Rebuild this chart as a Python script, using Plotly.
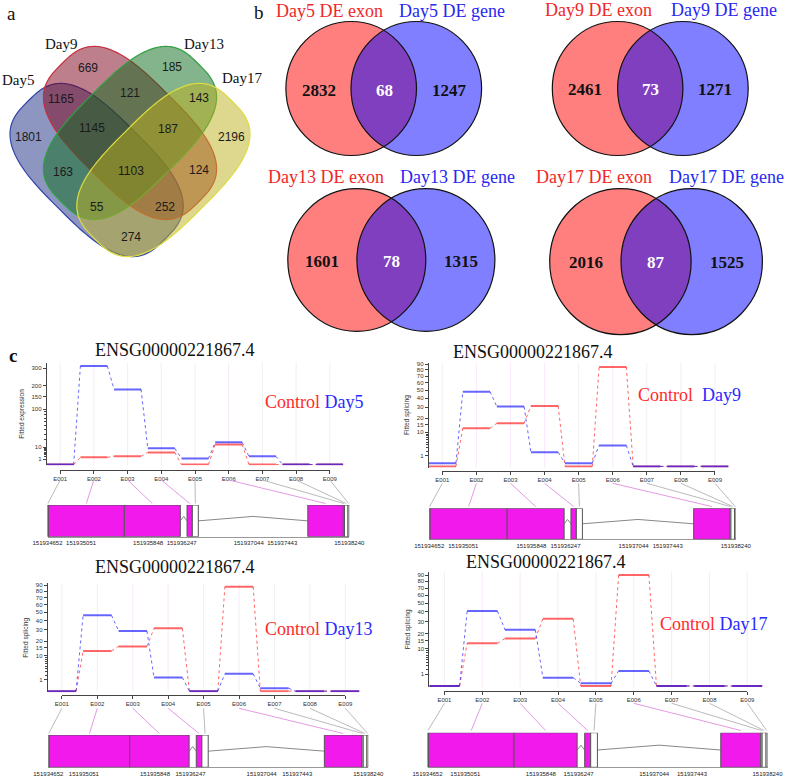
import numpy as np
import plotly.graph_objects as go

W, H = 787, 776
SERIF = "Liberation Serif, Times New Roman, serif"
SANS = "Liberation Sans, Arial, sans-serif"
AX = "#444444"
RED_LINE = "rgba(255,0,0,0.6)"
BLUE_LINE = "rgba(0,0,255,0.6)"

# ── a: four-way Venn of DE exons ─────────────────────────────────────────
venn4_sets = ["Day5", "Day9", "Day13", "Day17"]
venn4_regions = ["A", "B", "C", "D", "AB", "AC", "AD", "BC", "BD", "CD",
                 "ABC", "ABD", "ACD", "BCD", "ABCD"]
venn4_counts = [1801, 669, 185, 2196, 1165, 163, 274, 121, 124, 143,
                1145, 252, 55, 187, 1103]

# ── b: DE exon vs DE gene overlaps ───────────────────────────────────────
venn2_days = ["Day5", "Day9", "Day13", "Day17"]
de_exon_only = [2832, 2461, 1601, 2016]
de_both = [68, 73, 78, 87]
de_gene_only = [1247, 1271, 1315, 1525]

# ── c: DEXSeq fits for one gene ──────────────────────────────────────────
gene_id = "ENSG00000221867.4"
exon_ids = ["E001", "E002", "E003", "E004", "E005", "E006", "E007", "E008", "E009"]
exon_sig = [False, True, True, True, False, True, False, False, False]
exon_start = [151934652, 151934662, 151935565, 151936311, 151936374,
              151937747, 151938169, 151938183, 151938225]
exon_end = [151934662, 151935565, 151936231, 151936374, 151936445,
            151938169, 151938183, 151938225, 151938240]
genomic_ticks = [151934652, 151935051, 151935848, 151936247,
                 151937044, 151937443, 151938240]

control_day5 = [0, 1.7, 2.2, 4.8, 0, 13.2, 0, 0, 0]
fit_day5 = [0, 314, 183, 8.5, 1.2, 16, 2.2, 0, 0]
control_day9 = [0, 12.5, 16, 31.4, 0, 85, 0, 0, 0]
fit_day9 = [0.09, 48, 30.7, 1.7, 0.09, 3.8, 0, 0, 0]
control_day13 = [0, 12.9, 16, 31.5, 0, 87, 0, 0, 0]
fit_day13 = [0, 46, 29, 1.5, 0, 2.4, 0.07, 0, 0]
control_day17 = [0, 13.3, 16.4, 33, 0, 90, 0, 0, 0]
fit_day17 = [0, 41, 23, 0.5, 0.05, 1.65, 0, 0, 0]

expr_ticks = [1, 10, 100, 150, 200, 300]
splice_ticks = [1, 10, 15, 20, 30, 40, 50, 60, 70, 80, 90]

# ── layout positions (pixels) ────────────────────────────────────────────
VENN4_POS = {"A": (28.7, 136.7), "B": (87.7, 68.3), "C": (171.7, 66.7),
             "D": (231, 136.7), "AB": (61, 99.3), "AC": (62.7, 171.7),
             "AD": (131, 237.3), "BC": (130, 92.7), "BD": (198.7, 170),
             "CD": (198.7, 97.7), "ABC": (92, 128.3), "ABD": (165, 206.7),
             "ACD": (96.7, 206.7), "BCD": (168.3, 129.3), "ABCD": (130.7, 170.7)}
VENN4_LABEL_POS = [(18.3, 80), (61, 44), (204, 44), (241.7, 78.3)]
# cx, cy, half-extent, half-width, angle, fill, line
BLOBS = [
    (96.6, 170, 86.6, 54, 45, "rgba(28,45,130,0.5)", "#3345A8"),
    (130, 133, 86.6, 54, 45, "rgba(125,0,25,0.5)", "#C83040"),
    (130, 133, 86.6, 54, -45, "rgba(10,105,25,0.5)", "#30A040"),
    (163.4, 170, 86.6, 54, -45, "rgba(190,175,30,0.5)", "#DCDC40"),
]
SQUIRCLE_N = 3.0

VENN2_POS = [
    dict(red=(351.2, 88.5), blue=(416.3, 88.5), r=(65.3, 67), tred=329.5, tblue=451.9,
         ty=11, nums=(318.8, 384.3, 449), ny=90),
    dict(red=(617.6, 88.5), blue=(682.9, 88.5), r=(65.3, 67), tred=598.9, tblue=724.2,
         ty=10, nums=(584.6, 650.3, 715.4), ny=89),
    dict(red=(356.8, 260), blue=(425.9, 260), r=(69, 71.3), tred=325.7, tblue=457.8,
         ty=176.5, nums=(321.6, 391.8, 460.7), ny=261),
    dict(red=(620.4, 261.6), blue=(691.7, 261.6), r=(70.7, 73), tred=594.2, tblue=726.5,
         ty=176.5, nums=(585.6, 656.2, 726.8), ny=262.5),
]

C_PANELS = [
    dict(control=control_day5, fit=fit_day5, day="Day5", ylabel="Fitted expression",
         yticks=expr_ticks, data_x=(46.7, 343.3), data_y=(362.7, 465.3),
         yrange=(-0.13, 18.33), axis_y=470, title=(175, 350), legend=(263.3, 401.7),
         gap=" ", gene_x=(47.5, 349.3), gene_y=(505, 536.7), conn=(480, 503.5)),
    dict(control=control_day9, fit=fit_day9, day="Day9", ylabel="Fitted splicing",
         yticks=splice_ticks, data_x=(428.7, 728.6), data_y=(362.7, 467.5),
         yrange=(-0.1, 9.61), axis_y=470.7, title=(533, 351.7), legend=(635.7, 395),
         gap="\u00a0\u00a0", gene_x=(429.2, 735.8), gene_y=(508.3, 539.3), conn=(483.3, 506.5)),
    dict(control=control_day13, fit=fit_day13, day="Day13", ylabel="Fitted splicing",
         yticks=splice_ticks, data_x=(47.7, 359.5), data_y=(583.3, 692.3),
         yrange=(-0.1, 9.64), axis_y=695, title=(175.3, 566.7), legend=(263.3, 629.3),
         gap=" ", gene_x=(48.3, 368.3), gene_y=(735, 767.3), conn=(708.3, 733.5)),
    dict(control=control_day17, fit=fit_day17, day="Day17", ylabel="Fitted splicing",
         yticks=splice_ticks, data_x=(429.3, 762.5), data_y=(571.7, 687),
         yrange=(-0.09, 9.77), axis_y=691, title=(545.8, 561.7), legend=(657.7, 624.3),
         gap=" ", gene_x=(427.5, 767.5), gene_y=(732.7, 767.3), conn=(703.3, 730.5)),
]


def axname(kind, n):
    key = f"{kind}axis" if n == 1 else f"{kind}axis{n}"
    ref = kind if n == 1 else f"{kind}{n}"
    return key, ref


def dom_x(p0, p1):
    return [p0 / W, p1 / W]


def dom_y(top, bottom):
    return [1 - bottom / H, 1 - top / H]


fig = go.Figure()
layout = dict(width=W, height=H, margin=dict(l=0, r=0, t=0, b=0, pad=0), autosize=False,
              paper_bgcolor="white", plot_bgcolor="rgba(0,0,0,0)", showlegend=False)
shapes, annotations = [], []

# pixel canvas covering the whole figure
CX, CY = "x13", "y9"
layout["xaxis13"] = dict(domain=[0, 1], range=[0, W], visible=False, fixedrange=True,
                         anchor=CY, automargin=False)
layout["yaxis9"] = dict(domain=[0, 1], range=[H, 0], visible=False, fixedrange=True,
                        anchor=CX, automargin=False)
fig.add_trace(go.Scatter(x=[None], y=[None], xaxis=CX, yaxis=CY, hoverinfo="skip"))


def text(x, y, s, size, color="#111111", family=SERIF, xanchor="center", yanchor="middle"):
    annotations.append(dict(x=x, y=y, xref=CX, yref=CY, text=s, showarrow=False,
                            xanchor=xanchor, yanchor=yanchor,
                            font=dict(size=size, color=color, family=family)))


# ── panel a: rounded (superellipse) sets ─────────────────────────────────
t = np.linspace(0, 2 * np.pi, 181)
m = SQUIRCLE_N / (SQUIRCLE_N - 1)
for cx, cy, ext, b, ang, fill, line in BLOBS:
    # semi-major axis chosen so the diagonal half-extent equals `ext`
    a = ((ext * np.sqrt(2)) ** m - b ** m) ** (1 / m)
    c, s = np.cos(t), np.sin(t)
    u = a * np.sign(c) * np.abs(c) ** (2 / SQUIRCLE_N)
    v = b * np.sign(s) * np.abs(s) ** (2 / SQUIRCLE_N)
    th = np.deg2rad(ang)
    xs = cx + u * np.cos(th) - v * np.sin(th)
    ys = cy + u * np.sin(th) + v * np.cos(th)
    path = "M " + " L ".join(f"{x:.2f},{y:.2f}" for x, y in zip(xs, ys)) + " Z"
    shapes.append(dict(type="path", path=path, xref=CX, yref=CY,
                       fillcolor=fill, line=dict(color=line, width=1.2)))

for name, (x, y) in zip(venn4_sets, VENN4_LABEL_POS):
    text(x, y, name, 15)
for reg, cnt in zip(venn4_regions, venn4_counts):
    x, y = VENN4_POS[reg]
    text(x, y, str(cnt), 12, "#1a1a1a", SANS)

text(11.7, 13.3, "a", 19)
text(258.6, 12, "b", 19)
text(13.3, 355, "<b>c</b>", 19)

# ── panel b ──────────────────────────────────────────────────────────────
for day, n_exon, n_both, n_gene, P in zip(venn2_days, de_exon_only, de_both,
                                          de_gene_only, VENN2_POS):
    rx, ry = P["r"]
    for (cx, cy), fill in ((P["red"], "rgba(255,0,0,0.5)"), (P["blue"], "rgba(0,0,255,0.5)")):
        shapes.append(dict(type="circle", xref=CX, yref=CY, x0=cx - rx, x1=cx + rx,
                           y0=cy - ry, y1=cy + ry, fillcolor=fill, line=dict(width=0)))
    for cx, cy in (P["red"], P["blue"]):
        shapes.append(dict(type="circle", xref=CX, yref=CY, x0=cx - rx, x1=cx + rx,
                           y0=cy - ry, y1=cy + ry, line=dict(color="#111111", width=1.2)))
    text(P["tred"], P["ty"], f"{day} DE exon", 18, "#F02828")
    text(P["tblue"], P["ty"], f"{day} DE gene", 18, "#2828F0")
    for x, n, col in zip(P["nums"], (n_exon, n_both, n_gene), ("#111111", "white", "#111111")):
        text(x, P["ny"], f"<b>{n}</b>", 17, col)

# ── panel c ──────────────────────────────────────────────────────────────
G0, G1 = genomic_ticks[0], genomic_ticks[-1]
for k, P in enumerate(C_PANELS):
    kxd, rxd = axname("x", 3 * k + 1)
    kxt, rxt = axname("x", 3 * k + 2)
    kxg, rxg = axname("x", 3 * k + 3)
    kyd, ryd = axname("y", 2 * k + 1)
    kyg, ryg = axname("y", 2 * k + 2)

    d0, d1 = P["data_x"]
    step = (d1 - d0) / 8.8
    t0, t1 = d0 + 0.4 * step, d1 - 0.4 * step
    ticks = P["yticks"]
    minor_vals = list(range(2, 10)) + ([20, 30, 40, 50, 60, 70, 80, 90] if ticks is expr_ticks else [])

    layout[kxd] = dict(domain=dom_x(d0, d1), range=[0.6, 9.4], anchor=ryd,
                       visible=False, fixedrange=True, automargin=False)
    layout[kyd] = dict(domain=dom_y(*P["data_y"]), range=list(P["yrange"]), anchor=rxd,
                       showline=True, linecolor=AX, linewidth=1, ticks="outside",
                       ticklen=3, tickwidth=1, tickcolor=AX, automargin=False,
                       tickvals=[float(np.sqrt(v)) for v in ticks],
                       ticktext=[str(v) for v in ticks],
                       tickfont=dict(size=6, family=SANS, color="#333333"),
                       minor=dict(tickvals=[float(np.sqrt(v)) for v in minor_vals],
                                  ticks="outside", ticklen=2, tickcolor=AX, showgrid=False),
                       showgrid=False, zeroline=False, fixedrange=True,
                       title=dict(text=P["ylabel"], standoff=6,
                                  font=dict(size=6.5, family=SANS, color="#333333")))
    layout[kxt] = dict(domain=dom_x(t0, t1), range=[1, 9], anchor="free",
                       position=1 - P["axis_y"] / H, tickvals=list(range(1, 10)),
                       ticktext=exon_ids, showline=True, linecolor=AX, linewidth=1,
                       ticks="outside", ticklen=3, tickcolor=AX, tickangle=0,
                       tickfont=dict(size=6, family=SANS, color="#333333"), automargin=False,
                       showgrid=False, zeroline=False, fixedrange=True)
    fig.add_trace(go.Scatter(x=[None], y=[None], xaxis=rxt, yaxis=ryd, hoverinfo="skip"))

    # faint exon guides
    for i, sig in enumerate(exon_sig, start=1):
        shapes.append(dict(type="line", xref=rxd, yref=f"{ryd} domain", x0=i, x1=i, y0=0, y1=1,
                           layer="below",
                           line=dict(color="rgba(235,170,235,0.25)" if sig else "rgba(200,200,200,0.25)",
                                     width=1)))

    # fitted values: flat exon segments joined by dotted ramps
    for vals, col in ((P["control"], RED_LINE), (P["fit"], BLUE_LINE)):
        s = np.sqrt(np.asarray(vals, dtype=float))
        xs, ys, cx_, cy_ = [], [], [], []
        for i, v in enumerate(s, start=1):
            xs += [i - 0.4, i + 0.4, None]
            ys += [v, v, None]
        for i in range(1, len(s)):
            cx_ += [i + 0.4, i + 0.6, None]
            cy_ += [s[i - 1], s[i], None]
        fig.add_trace(go.Scatter(x=xs, y=ys, mode="lines", xaxis=rxd, yaxis=ryd,
                                 line=dict(color=col, width=2), hoverinfo="skip"))
        fig.add_trace(go.Scatter(x=cx_, y=cy_, mode="lines", xaxis=rxd, yaxis=ryd,
                                 line=dict(color=col, width=1, dash="dot"), hoverinfo="skip"))

    # gene model
    g0, g1 = P["gene_x"]
    layout[kxg] = dict(domain=dom_x(g0, g1), range=[G0, G1], anchor=ryg,
                       tickvals=genomic_ticks, ticktext=[str(v) for v in genomic_ticks],
                       tickfont=dict(size=6, family=SANS, color="#222222"), ticks="",
                       tickangle=0, showline=True, linecolor="#999999", showgrid=False,
                       zeroline=False, fixedrange=True, automargin=False)
    layout[kyg] = dict(domain=dom_y(*P["gene_y"]), range=[0, 1], anchor=rxg,
                       visible=False, fixedrange=True, automargin=False)
    ix, iy = [], []
    for i in range(len(exon_ids) - 1):
        if exon_start[i + 1] > exon_end[i]:
            ix += [exon_end[i], (exon_end[i] + exon_start[i + 1]) / 2, exon_start[i + 1], None]
            iy += [0.5, 0.64, 0.5, None]
    fig.add_trace(go.Scatter(x=ix, y=iy, mode="lines", xaxis=rxg, yaxis=ryg,
                             line=dict(color="#888888", width=1), hoverinfo="skip"))
    for s0, s1, sig in zip(exon_start, exon_end, exon_sig):
        shapes.append(dict(type="rect", xref=rxg, yref=ryg, x0=s0, x1=s1, y0=0, y1=1,
                           fillcolor="#F219ED" if sig else "white",
                           line=dict(color="#555555", width=1)))

    # connectors from exon ticks to exon midpoints
    c0, c1 = P["conn"]
    for i, (s0, s1, sig) in enumerate(zip(exon_start, exon_end, exon_sig)):
        xa = t0 + i * (t1 - t0) / 8
        xb = g0 + ((s0 + s1) / 2 - G0) / (G1 - G0) * (g1 - g0)
        shapes.append(dict(type="line", xref=CX, yref=CY, x0=xa, y0=c0, x1=xb, y1=c1,
                           line=dict(color="#E59AE5" if sig else "#BBBBBB", width=1)))

    text(P["title"][0], P["title"][1], gene_id, 18)
    text(P["legend"][0], P["legend"][1],
         f"<span style='color:#FF2A2A'>Control</span>{P['gap']}"
         f"<span style='color:#2A2AFF'>{P['day']}</span>", 18, xanchor="left")

layout["shapes"] = shapes
layout["annotations"] = annotations
fig.update_layout(**layout)
fig.write_html("out.html", config={"displayModeBar": False},
               post_script="document.body.style.margin = '0px';")
